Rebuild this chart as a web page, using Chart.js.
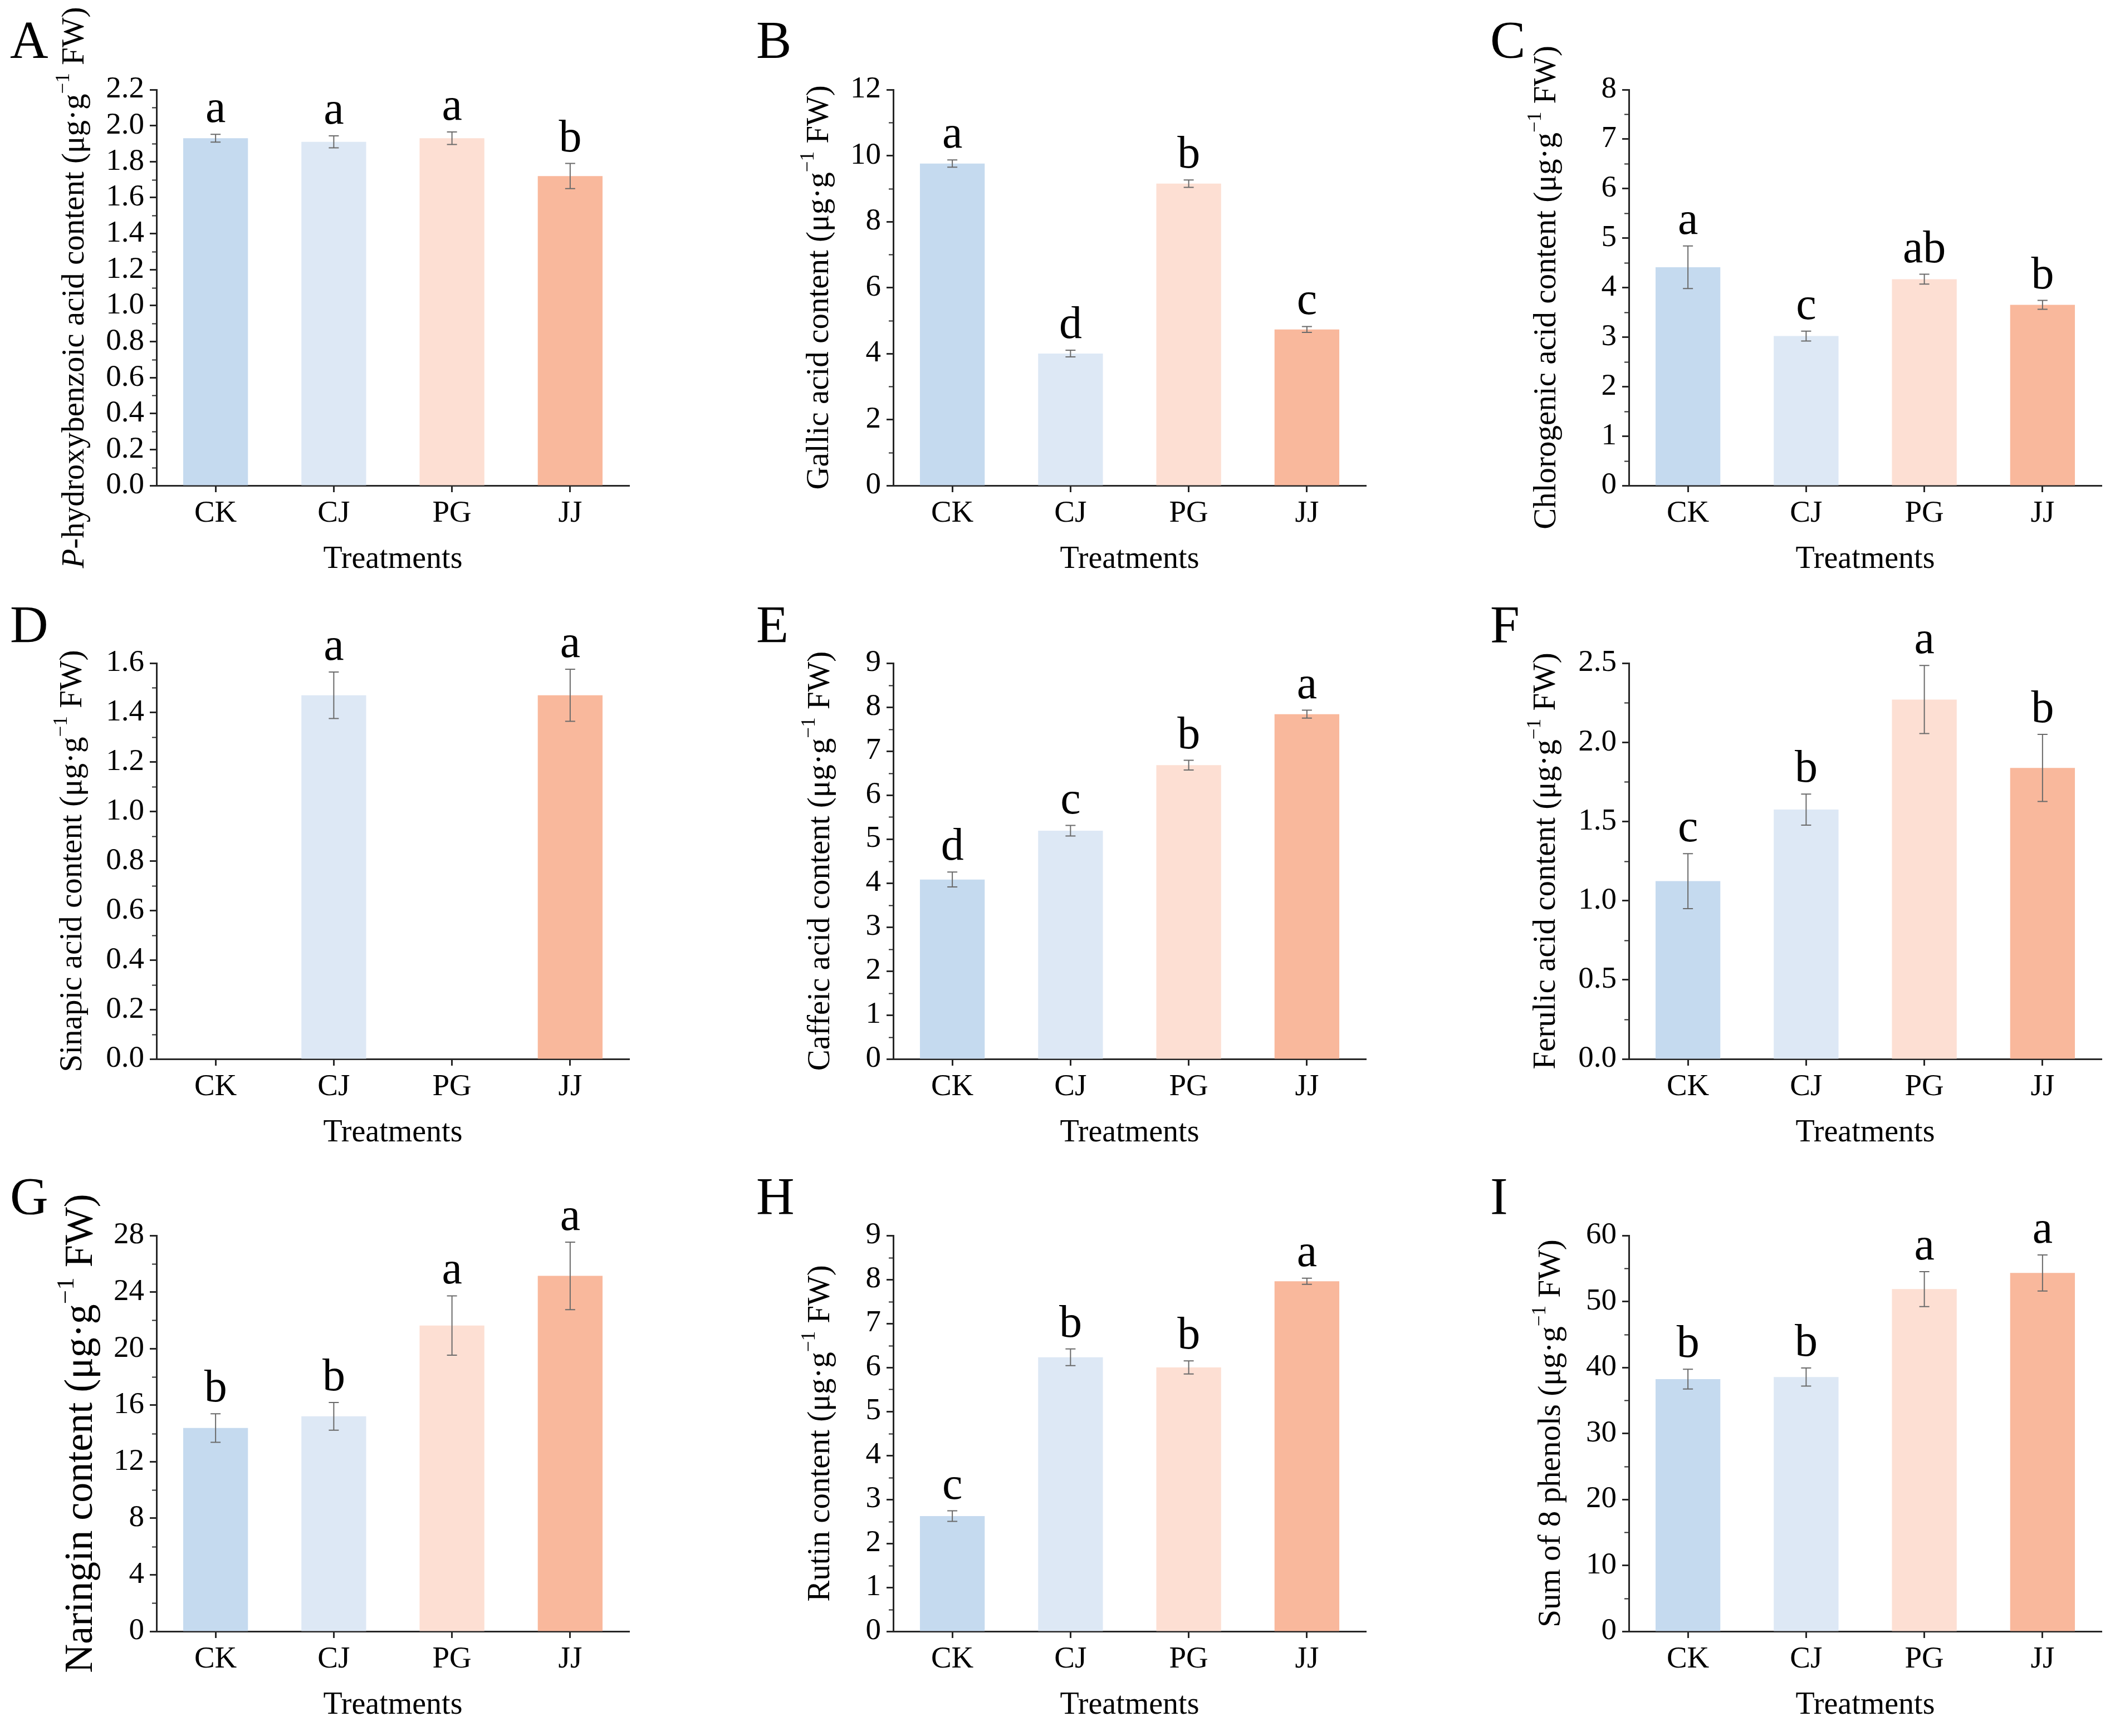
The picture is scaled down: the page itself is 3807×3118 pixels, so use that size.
<!DOCTYPE html>
<html>
<head>
<meta charset="utf-8">
<script src="https://cdn.jsdelivr.net/npm/chart.js@4.4.1/dist/chart.umd.min.js"></script>
<style>
html,body{margin:0;padding:0;background:#fff;width:3807px;height:3118px;overflow:hidden;}
#wrap{position:relative;width:3807px;height:3118px;overflow:hidden;}
.cell{position:absolute;}
.plabel{position:absolute;font-family:"Liberation Serif","Times New Roman",serif;font-size:95px;line-height:1;color:#000;white-space:nowrap;}
</style>
</head>
<body>
<div id="wrap"></div>
<script>
// ---------------- DATA ----------------
const categories = ['CK', 'CJ', 'PG', 'JJ'];
const panelLetters = ['A', 'B', 'C', 'D', 'E', 'F', 'G', 'H', 'I'];
const yTitleNames = [
  'P-hydroxybenzoic acid content', 'Gallic acid content', 'Chlorogenic acid content',
  'Sinapic acid content', 'Caffeic acid content', 'Ferulic acid content',
  'Naringin content', 'Rutin content', 'Sum of 8 phenols'
];
const xTitle = 'Treatments';

const pHydroxyVals = [1.93, 1.91, 1.93, 1.72];
const pHydroxyErr  = [0.022, 0.033, 0.035, 0.07];
const pHydroxySig  = ['a', 'a', 'a', 'b'];

const gallicVals = [9.76, 4.00, 9.15, 4.73];
const gallicErr  = [0.11, 0.10, 0.11, 0.09];
const gallicSig  = ['a', 'd', 'b', 'c'];

const chlorogenicVals = [4.41, 3.02, 4.17, 3.65];
const chlorogenicErr  = [0.43, 0.10, 0.10, 0.09];
const chlorogenicSig  = ['a', 'c', 'ab', 'b'];

const sinapicVals = [0, 1.47, 0, 1.47];
const sinapicErr  = [0, 0.094, 0, 0.105];
const sinapicSig  = ['', 'a', '', 'a'];

const caffeicVals = [4.08, 5.19, 6.68, 7.84];
const caffeicErr  = [0.17, 0.12, 0.11, 0.09];
const caffeicSig  = ['d', 'c', 'b', 'a'];

const ferulicVals = [1.123, 1.575, 2.27, 1.838];
const ferulicErr  = [0.174, 0.098, 0.215, 0.212];
const ferulicSig  = ['c', 'b', 'a', 'b'];

const naringinVals = [14.38, 15.21, 21.63, 25.14];
const naringinErr  = [1.01, 0.98, 2.10, 2.39];
const naringinSig  = ['b', 'b', 'a', 'a'];

const rutinVals = [2.62, 6.23, 6.00, 7.96];
const rutinErr  = [0.12, 0.19, 0.15, 0.07];
const rutinSig  = ['c', 'b', 'b', 'a'];

const sumVals = [38.22, 38.55, 51.87, 54.32];
const sumErr  = [1.50, 1.37, 2.65, 2.73];
const sumSig  = ['b', 'b', 'a', 'a'];

const yMaxes      = [2.2, 12, 8, 1.6, 9, 2.5, 28, 9, 60];
const yMajorSteps = [0.2, 2, 1, 0.2, 1, 0.5, 4, 1, 10];
const yMinorSteps = [0.1, 1, 0.5, 0.1, 0.5, 0.25, 2, 0.5, 5];
const yDecimals   = [1, 0, 0, 1, 0, 1, 0, 0, 0];

const allVals = [pHydroxyVals, gallicVals, chlorogenicVals, sinapicVals, caffeicVals, ferulicVals, naringinVals, rutinVals, sumVals];
const allErrs = [pHydroxyErr, gallicErr, chlorogenicErr, sinapicErr, caffeicErr, ferulicErr, naringinErr, rutinErr, sumErr];
const allSigs = [pHydroxySig, gallicSig, chlorogenicSig, sinapicSig, caffeicSig, ferulicSig, naringinSig, rutinSig, sumSig];

// ---------------- STYLE / LAYOUT ----------------
const FONT = '"Liberation Serif", "Times New Roman", serif';
const barColors = ['#c5daef', '#dde8f5', '#fddfd3', '#f9b89c'];
const AXIS_COLOR = '#262626';
const plotLefts = [281, 1604, 2925];
const plotTops = [161, 1191, 2219];
const YW = 281, PLOT_W = 849, PLOT_H = 711, PAD_TOP = 161, XH = 180;
const CW = 1269, CH = 1060;
const PAD_RIGHT = CW - YW - PLOT_W;
const PAD_BOTTOM = CH - PAD_TOP - PLOT_H - XH;
const titleDists = [146, 132, 147, 150, 130, 148, 135, 130, 139];
const titleSizes = [57, 57, 57, 57, 57, 57, 72, 57, 57];
const letterLefts = [18, 1358, 2676];
const letterBaselines = [105, 1155, 2182];

const extrasPlugin = {
  id: 'panelExtras',
  afterDatasetsDraw(chart, args, opts) {
    const ctx = chart.ctx;
    const xs = chart.scales.x, ys = chart.scales.y;
    const vals = chart.data.datasets[0].data;
    const errs = opts.errs, sig = opts.sig;
    ctx.save();
    ctx.strokeStyle = '#6a6a6a';
    ctx.lineWidth = 2;
    vals.forEach((v, i) => {
      if (!errs[i]) return;
      const cx = xs.getPixelForValue(i);
      const yt = ys.getPixelForValue(v + errs[i]);
      const yb = ys.getPixelForValue(v - errs[i]);
      ctx.beginPath();
      ctx.moveTo(cx, yt); ctx.lineTo(cx, yb);
      ctx.moveTo(cx - 9, yt); ctx.lineTo(cx + 9, yt);
      ctx.moveTo(cx - 9, yb); ctx.lineTo(cx + 9, yb);
      ctx.stroke();
    });
    ctx.fillStyle = '#000';
    ctx.font = '82px ' + FONT;
    ctx.textAlign = 'center';
    ctx.textBaseline = 'alphabetic';
    vals.forEach((v, i) => {
      if (!sig[i]) return;
      const cx = xs.getPixelForValue(i);
      const yt = ys.getPixelForValue(v + (errs[i] || 0));
      ctx.fillText(sig[i], cx, yt - 22);
    });
    ctx.restore();
  },
  afterDraw(chart, args, opts) {
    const ctx = chart.ctx;
    const ys = chart.scales.y;
    const area = chart.chartArea;
    ctx.save();
    // minor ticks
    ctx.strokeStyle = AXIS_COLOR;
    ctx.lineWidth = 2;
    const n = Math.round(opts.max / opts.minor);
    for (let k = 1; k < n; k++) {
      const v = k * opts.minor;
      const r = v / opts.major;
      if (Math.abs(r - Math.round(r)) < 1e-6) continue;
      const py = Math.round(ys.getPixelForValue(v)) + 0.5;
      ctx.beginPath();
      ctx.moveTo(area.left, py);
      ctx.lineTo(area.left - 8, py);
      ctx.stroke();
    }
    // y title with superscript
    const fs = opts.titleSize;
    const supFs = Math.round(fs * 0.62);
    let name = opts.title;
    const pieces = [];
    if (name.startsWith('P-')) {
      pieces.push({t: 'P', font: 'italic ' + fs + 'px ' + FONT, dy: 0});
      name = name.slice(1);
    }
    pieces.push({t: name + ' (μg·g', font: fs + 'px ' + FONT, dy: 0});
    pieces.push({t: '−1', font: supFs + 'px ' + FONT, dy: -fs * 0.36});
    pieces.push({t: ' FW)', font: fs + 'px ' + FONT, dy: 0});
    let total = 0;
    pieces.forEach(p => { ctx.font = p.font; p.w = ctx.measureText(p.t).width; total += p.w; });
    const tx = area.left - opts.titleDist;
    const ty = (area.top + area.bottom) / 2;
    ctx.translate(tx, ty);
    ctx.rotate(-Math.PI / 2);
    ctx.fillStyle = '#000';
    ctx.textAlign = 'left';
    ctx.textBaseline = 'middle';
    let x0 = -total / 2;
    pieces.forEach(p => { ctx.font = p.font; ctx.fillText(p.t, x0, p.dy); x0 += p.w; });
    ctx.restore();
  }
};

const wrap = document.getElementById('wrap');

for (let p = 0; p < 9; p++) {
  const col = p % 3, row = Math.floor(p / 3);
  const cell = document.createElement('div');
  cell.className = 'cell';
  cell.style.left = (plotLefts[col] - YW) + 'px';
  cell.style.top = (plotTops[row] - PAD_TOP) + 'px';
  cell.style.width = CW + 'px';
  cell.style.height = CH + 'px';
  const cv = document.createElement('canvas');
  cv.width = CW; cv.height = CH;
  cv.style.width = CW + 'px'; cv.style.height = CH + 'px';
  cell.appendChild(cv);
  wrap.appendChild(cell);

  const lab = document.createElement('div');
  lab.className = 'plabel';
  lab.textContent = panelLetters[p];
  lab.style.left = letterLefts[col] + 'px';
  lab.style.top = (letterBaselines[row] - 80) + 'px';
  wrap.appendChild(lab);

  const dec = yDecimals[p];
  new Chart(cv, {
    type: 'bar',
    data: {
      labels: categories,
      datasets: [{
        data: allVals[p],
        backgroundColor: barColors,
        borderWidth: 0,
        barPercentage: 0.548,
        categoryPercentage: 1.0
      }]
    },
    options: {
      responsive: false,
      animation: false,
      devicePixelRatio: 1,
      layout: {padding: {top: PAD_TOP, left: 0, right: PAD_RIGHT, bottom: PAD_BOTTOM}},
      plugins: {
        legend: {display: false},
        tooltip: {enabled: false},
        panelExtras: {
          errs: allErrs[p], sig: allSigs[p],
          max: yMaxes[p], major: yMajorSteps[p], minor: yMinorSteps[p],
          title: yTitleNames[p], titleDist: titleDists[p], titleSize: titleSizes[p]
        }
      },
      scales: {
        x: {
          type: 'category',
          offset: true,
          grid: {display: true, offset: false, drawOnChartArea: false, drawTicks: true, tickLength: 12, tickWidth: 3, tickColor: AXIS_COLOR},
          border: {display: true, color: AXIS_COLOR, width: 3},
          ticks: {color: '#000', font: {family: FONT, size: 55}, padding: 6, maxRotation: 0, minRotation: 0, autoSkip: false},
          title: {display: true, text: xTitle, color: '#000', font: {family: FONT, size: 56}, padding: {top: 0, bottom: 13}},
          afterFit(s) { s.height = XH; }
        },
        y: {
          type: 'linear',
          min: 0,
          max: yMaxes[p],
          grid: {display: true, drawOnChartArea: false, drawTicks: true, tickLength: 12, tickWidth: 3, tickColor: AXIS_COLOR},
          border: {display: true, color: AXIS_COLOR, width: 3},
          ticks: {
            stepSize: yMajorSteps[p],
            autoSkip: false,
            color: '#000',
            font: {family: FONT, size: 55},
            padding: 10,
            callback: v => Number(v).toFixed(dec)
          },
          afterFit(s) { s.width = YW; }
        }
      }
    },
    plugins: [extrasPlugin]
  });
}
</script>
</body>
</html>
